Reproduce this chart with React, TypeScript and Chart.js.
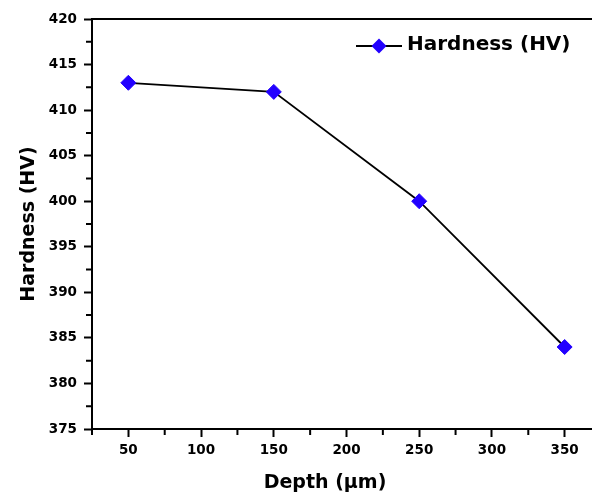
import React, { useEffect, useRef } from "react";
import { Chart, registerables } from "chart.js";

Chart.register(...registerables);

const depths = [50, 150, 250, 350];
const hardness = [413, 412, 400, 384];
const xMajorTicks = [50, 100, 150, 200, 250, 300, 350];
const xMinorTicks = [25, 75, 125, 175, 225, 275, 325, 375];
const yMajorTicks = [375, 380, 385, 390, 395, 400, 405, 410, 415, 420];
const yMinorTicks = [377.5, 382.5, 387.5, 392.5, 397.5, 402.5, 407.5, 412.5, 417.5];
const seriesLabel = "Hardness (HV)";
const xTitle = "Depth (\u03bcm)";
const yTitle = "Hardness (HV)";

const FONT = "'DejaVu Sans', sans-serif";
const MARKER = "#2200ff";

const extrasPlugin = {
  id: "extras",
  afterDraw(chart: any) {
    const { ctx, chartArea } = chart;
    const xs = chart.scales.x;
    const ys = chart.scales.y;
    ctx.save();
    ctx.strokeStyle = "#000";
    ctx.lineWidth = 2;
    ctx.beginPath();
    // top frame line
    ctx.moveTo(chartArea.left - 1, chartArea.top);
    ctx.lineTo(chartArea.right, chartArea.top);
    for (const v of xMinorTicks) {
      const px = xs.getPixelForValue(v);
      ctx.moveTo(px, chartArea.bottom);
      ctx.lineTo(px, chartArea.bottom + 6);
    }
    for (const v of yMinorTicks) {
      const py = ys.getPixelForValue(v);
      ctx.moveTo(chartArea.left, py);
      ctx.lineTo(chartArea.left - 6, py);
    }
    ctx.stroke();

    // x axis title
    ctx.fillStyle = "#000";
    ctx.font = `bold 19px ${FONT}`;
    ctx.textAlign = "center";
    ctx.textBaseline = "middle";
    ctx.fillText(xTitle, chartArea.left + 233, chartArea.bottom + 54);

    // legend
    const lx = chartArea.left + 264;
    const ly = chartArea.top + 27;
    const ds = chart.data.datasets[0];
    ctx.beginPath();
    ctx.strokeStyle = ds.borderColor;
    ctx.lineWidth = 2;
    ctx.moveTo(lx, ly);
    ctx.lineTo(lx + 46, ly);
    ctx.stroke();
    const r = 7.5;
    const cx = lx + 23;
    ctx.beginPath();
    ctx.fillStyle = ds.pointBackgroundColor;
    ctx.moveTo(cx - r, ly);
    ctx.lineTo(cx, ly - r);
    ctx.lineTo(cx + r, ly);
    ctx.lineTo(cx, ly + r);
    ctx.closePath();
    ctx.fill();
    ctx.fillStyle = "#000";
    ctx.font = `bold 20px ${FONT}`;
    ctx.textAlign = "left";
    ctx.textBaseline = "middle";
    ctx.fillText(ds.label, lx + 51, ly - 1);
    ctx.restore();
  },
};

export default function App() {
  const ref = useRef<HTMLCanvasElement | null>(null);
  useEffect(() => {
    if (!ref.current) return;
    const chart = new Chart(ref.current, {
      type: "line",
      data: {
        datasets: [
          {
            label: seriesLabel,
            data: depths.map((d, i) => ({ x: d, y: hardness[i] })),
            borderColor: "#000",
            borderWidth: 1.8,
            pointStyle: "rectRot",
            pointRadius: 7.5,
            pointHoverRadius: 7.5,
            pointBackgroundColor: MARKER,
            pointBorderColor: MARKER,
            pointBorderWidth: 1,
            tension: 0,
          },
        ],
      },
      options: {
        animation: false,
        responsive: true,
        maintainAspectRatio: false,
        devicePixelRatio: 1,
        layout: { autoPadding: false, padding: { top: 19, left: 0, right: 0, bottom: 0 } },
        plugins: { legend: { display: false }, tooltip: { enabled: false } },
        scales: {
          x: {
            type: "linear",
            min: 25,
            max: 375,
            afterBuildTicks: (s: any) => {
              s.ticks = xMajorTicks.map((v) => ({ value: v }));
            },
            afterFit: (s: any) => {
              s.height = 70;
              s.paddingLeft = 0;
              s.paddingRight = 0;
            },
            grid: {
              display: true,
              drawOnChartArea: false,
              drawTicks: true,
              tickLength: 8,
              tickWidth: 2,
              tickColor: "#000",
            },
            border: { display: true, color: "#000", width: 2 },
            ticks: {
              color: "#000",
              padding: 5,
              maxRotation: 0,
              autoSkip: false,
              font: { family: FONT, size: 13.5, weight: "bold" },
            },
          },
          y: {
            type: "linear",
            min: 375,
            max: 420,
            afterBuildTicks: (s: any) => {
              s.ticks = yMajorTicks.map((v) => ({ value: v }));
            },
            afterFit: (s: any) => {
              s.width = 92;
            },
            grid: {
              display: true,
              drawOnChartArea: false,
              drawTicks: true,
              tickLength: 8,
              tickWidth: 2,
              tickColor: "#000",
            },
            border: { display: true, color: "#000", width: 2 },
            ticks: {
              color: "#000",
              padding: 7,
              autoSkip: false,
              font: { family: FONT, size: 13.5, weight: "bold" },
            },
            title: {
              display: true,
              text: yTitle,
              color: "#000",
              padding: { top: 17.6, bottom: 0 },
              font: { family: FONT, size: 19, weight: "bold" },
            },
          },
        },
      },
      plugins: [extrasPlugin],
    });
    return () => chart.destroy();
  }, []);
  return (
    <div
      style={{
        position: "fixed",
        left: 0,
        top: 0,
        width: 592,
        height: 499,
        overflow: "hidden",
        background: "#fff",
      }}
    >
      <div style={{ position: "relative", width: 601, height: 499 }}>
        <canvas ref={ref} />
      </div>
    </div>
  );
}
